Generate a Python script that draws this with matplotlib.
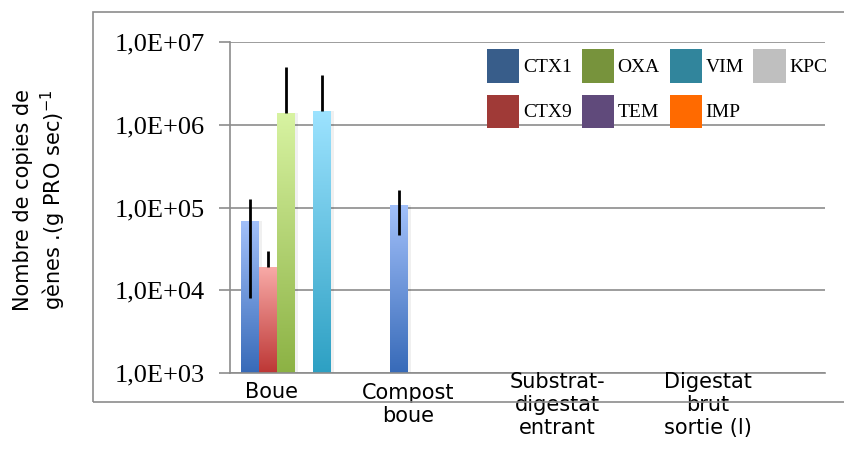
import numpy as np
import matplotlib
matplotlib.use('Agg')
import matplotlib.pyplot as plt
from matplotlib.patches import Patch, Rectangle
from matplotlib.colors import LinearSegmentedColormap
from matplotlib.ticker import FixedLocator, NullLocator, FuncFormatter

# Data
categories = ['Boue', 'Compost\nboue', 'Substrat-\ndigestat\nentrant', 'Digestat\nbrut\nsortie (l)']
genes = ['CTX1', 'CTX9', 'OXA', 'TEM', 'VIM', 'IMP', 'KPC']
nan = np.nan
ctx1 = [6.8e4, 1.06e5, nan, nan]
ctx9 = [1.9e4, nan, nan, nan]
oxa = [1.4e6, nan, nan, nan]
tem = [nan, nan, nan, nan]
vim = [1.48e6, nan, nan, nan]
imp = [nan, nan, nan, nan]
kpc = [nan, nan, nan, nan]

# error bars (minus, plus)
ctx1_err = ([6.0e4, 5.9e4, 0, 0], [6.0e4, 5.9e4, 0, 0])
ctx9_err = ([0, 0, 0, 0], [1.07e4, 0, 0, 0])
oxa_err = ([0, 0, 0, 0], [3.6e6, 0, 0, 0])
vim_err = ([0, 0, 0, 0], [2.5e6, 0, 0, 0])

series = [ctx1, ctx9, oxa, tem, vim, imp, kpc]
errors = [ctx1_err, ctx9_err, oxa_err, None, vim_err, None, None]

# legend colours and gradient (bottom, top) colours
legend_colors = ['#385d8a', '#a03a37', '#77933c', '#604a7b', '#31859c', '#ff6a00', '#bfbfbf']
grad_colors = [('#376ab8', '#a2c0fa'), ('#bd3735', '#f8aaa7'), ('#8cb244', '#d8f3a2'),
               ('#604a7b', '#a58fc2'), ('#2da0c3', '#9de3ff'), ('#ff6a00', '#ffb070'),
               ('#9a9a9a', '#e0e0e0')]

fig = plt.figure(figsize=(8.45, 4.49), dpi=100)
ax = fig.add_axes([230/845, 1 - 373/449, 595/845, 331/449])

grid_col = '#8c8c8c'
ax.set_yscale('log')
ax.set_xlim(-0.5, 3.5)
ax.set_ylim(1e3, 1e7)
ax.set_autoscale_on(False)

w = 0.121
x = np.arange(len(categories))
grad = np.linspace(0, 1, 256).reshape(-1, 1)[::-1]

for j, vals in enumerate(series):
    xs = x + (j - 3) * w
    cmap = LinearSegmentedColormap.from_list('g%d' % j, grad_colors[j])
    # soft shadow on the right
    ax.bar(xs + 0.016, vals, width=w, color='#000000', alpha=0.06, zorder=1.5, linewidth=0)
    bars = ax.bar(xs, vals, width=w, color='none', linewidth=0, zorder=2)
    to_axes = ax.transData + ax.transAxes.inverted()
    for xc, v, b in zip(xs, vals, bars):
        if np.isnan(v):
            continue
        x0, y0 = to_axes.transform((xc - w / 2, 1e3))
        x1, y1 = to_axes.transform((xc + w / 2, v))
        im = ax.imshow(grad, extent=(x0, x1, y0, y1), transform=ax.transAxes,
                       aspect='auto', cmap=cmap, zorder=2, interpolation='bilinear')
        im.set_clip_path(b)
    if errors[j] is not None:
        ax.errorbar(xs, vals, yerr=[errors[j][0], errors[j][1]], fmt='none',
                    ecolor='black', elinewidth=2, capsize=0, zorder=4)

# axes styling
ax.yaxis.set_major_locator(FixedLocator([1e3, 1e4, 1e5, 1e6, 1e7]))
ax.yaxis.set_minor_locator(NullLocator())
ax.yaxis.set_major_formatter(FuncFormatter(lambda v, p: '1,0E+%02d' % int(round(np.log10(v)))))
ax.yaxis.grid(True, color=grid_col, linewidth=1.2)
ax.set_axisbelow(True)
for s in ['top', 'right']:
    ax.spines[s].set_visible(False)
ax.spines['left'].set_color(grid_col)
ax.spines['bottom'].set_color(grid_col)
ax.spines['left'].set_linewidth(1.2)
ax.spines['bottom'].set_linewidth(1.2)
ax.tick_params(axis='y', length=8, width=1.2, color=grid_col, pad=10, labelsize=19)
for lab in ax.get_yticklabels():
    lab.set_family('Liberation Serif')
ax.set_xticks([])

# category labels (positioned like the Excel original)
label_dx = [-0.224, -0.30, -0.30, -0.29]
label_y = [-0.058, -0.095, -0.097, -0.097]
for i, name in enumerate(categories):
    ax.text(x[i] + label_dx[i], label_y[i], name, transform=ax.get_xaxis_transform(),
            ha='center', va='center', fontsize=15, family='DejaVu Sans', linespacing=1.2)

fig.text(0.048, 0.555, 'Nombre de copies de\ngènes .(g PRO sec)$^{-1}$', rotation=90,
         ha='center', va='center', fontsize=15, family='DejaVu Sans', linespacing=1.25)

# legend
handles = [Patch(facecolor=c, edgecolor='none') for c in legend_colors]
ax.legend(handles, genes, ncol=4, loc='upper left', bbox_to_anchor=(487/845, 1 - 49/449),
          bbox_transform=fig.transFigure, frameon=False, borderpad=0, borderaxespad=0,
          handlelength=1.65, handleheight=2.3, handletextpad=0.2, columnspacing=0.5,
          labelspacing=0.6, prop={'family': 'Liberation Serif', 'size': 14})

# outer chart frame
fig.add_artist(Rectangle((93/845, 1 - 402/449), 1, 390/449, transform=fig.transFigure,
                         fill=False, edgecolor=grid_col, linewidth=1.2))

fig.savefig('out.png', dpi=100)
